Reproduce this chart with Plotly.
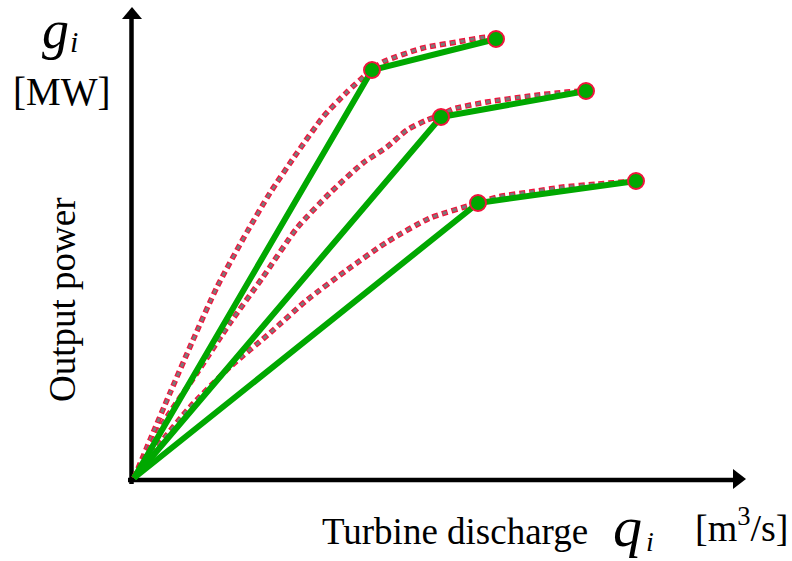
import plotly.graph_objects as go

W, H = 792, 561
# data units chosen so that the origin of the diagram sits at pixel (134, 478)
OX, OY = 134, 478

# piecewise-linear (green) approximations: origin, breakpoint, end
lin_x = [[0, 238, 362], [0, 307, 452], [0, 344, 502]]
lin_y = [[0, 408, 439], [0, 361, 387], [0, 275, 297]]

# nonlinear (dashed) curves
cur_x = [
    [0, 16, 36, 59, 83, 113, 136, 163, 189, 213, 234, 249, 289, 323, 353, 362],
    [0, 29, 63, 96, 129, 163, 196, 229, 253, 273, 293, 307, 319, 353, 396, 433, 452],
    [0, 23, 56, 96, 136, 173, 213, 253, 296, 344, 363, 396, 429, 463, 502],
]
cur_y = [
    [0, 38, 85, 138, 191, 246, 285, 325, 361, 386, 405, 416, 430, 436, 441, 440],
    [0, 55, 105, 155, 201, 250, 285, 315, 331, 348, 358, 363, 369, 376, 382, 386, 387],
    [0, 31, 71, 111, 145, 178, 208, 236, 260, 275, 281, 286, 291, 294, 297],
]

GREEN = "#00A800"
RED = "#F0143C"
GRAY = "#7A7A7A"
FONT = "Liberation Serif"

fig = go.Figure()

for cx, cy in zip(cur_x, cur_y):
    fig.add_trace(go.Scatter(x=cx, y=cy, mode="lines", line=dict(color=RED, width=5.5, dash="6px,4px", shape="spline", smoothing=0.6), hoverinfo="skip"))
    fig.add_trace(go.Scatter(x=cx, y=cy, mode="lines", line=dict(color=GRAY, width=3, dash="0px,1px,4px,5px", shape="spline", smoothing=0.6), hoverinfo="skip"))

for lx, ly in zip(lin_x, lin_y):
    fig.add_trace(go.Scatter(x=lx, y=ly, mode="lines", line=dict(color=GREEN, width=6), hoverinfo="skip"))
for lx, ly in zip(lin_x, lin_y):
    fig.add_trace(go.Scatter(x=lx[1:], y=ly[1:], mode="markers",
                             marker=dict(color=GREEN, size=16, line=dict(color=RED, width=2)), hoverinfo="skip"))

def px(x):
    return x - OX

def py(y):
    return OY - y

shapes = [
    # y axis
    dict(type="line", x0=px(131.5), x1=px(131.5), y0=py(484), y1=py(16), line=dict(color="black", width=4.5), layer="below"),
    dict(type="path", path=f"M {px(122)} {py(19)} L {px(142)} {py(19)} L {px(132)} {py(7)} Z", fillcolor="black", line=dict(width=0), layer="below"),
    # x axis
    dict(type="line", x0=px(128), x1=px(736), y0=py(480), y1=py(480), line=dict(color="black", width=4.5), layer="below"),
    dict(type="path", path=f"M {px(733)} {py(469)} L {px(733)} {py(489)} L {px(746)} {py(479)} Z", fillcolor="black", line=dict(width=0), layer="below"),
]

def ann(text, x, y, size, italic=False, angle=0, xanchor="center"):
    t = f"<i>{text}</i>" if italic else text
    return dict(text=t, x=x / W, y=1 - y / H, xref="paper", yref="paper", showarrow=False,
                xanchor=xanchor, yanchor="middle", textangle=angle,
                font=dict(family=FONT, size=size, color="black"))

annotations = [
    ann("g", 55, 30, 54, italic=True),
    ann("i", 74, 41, 30, italic=True),
    ann("[MW]", 61, 91, 39),
    ann("Output power", 62, 300, 37, angle=-90),
    ann("Turbine discharge", 455, 531, 37),
    ann("q", 627, 526, 58, italic=True),
    ann("i", 650, 541, 28, italic=True),
    ann("[m<sup>3</sup>/s]", 791, 525, 38, xanchor="right"),
]

fig.update_layout(
    width=W, height=H, autosize=False,
    margin=dict(l=0, r=0, t=0, b=0, pad=0),
    paper_bgcolor="white", plot_bgcolor="white",
    showlegend=False,
    xaxis=dict(range=[px(0), px(W)], visible=False, fixedrange=True),
    yaxis=dict(range=[py(H), py(0)], visible=False, fixedrange=True),
    shapes=shapes, annotations=annotations,
)

fig.write_html("out.html", config={"displayModeBar": False})
